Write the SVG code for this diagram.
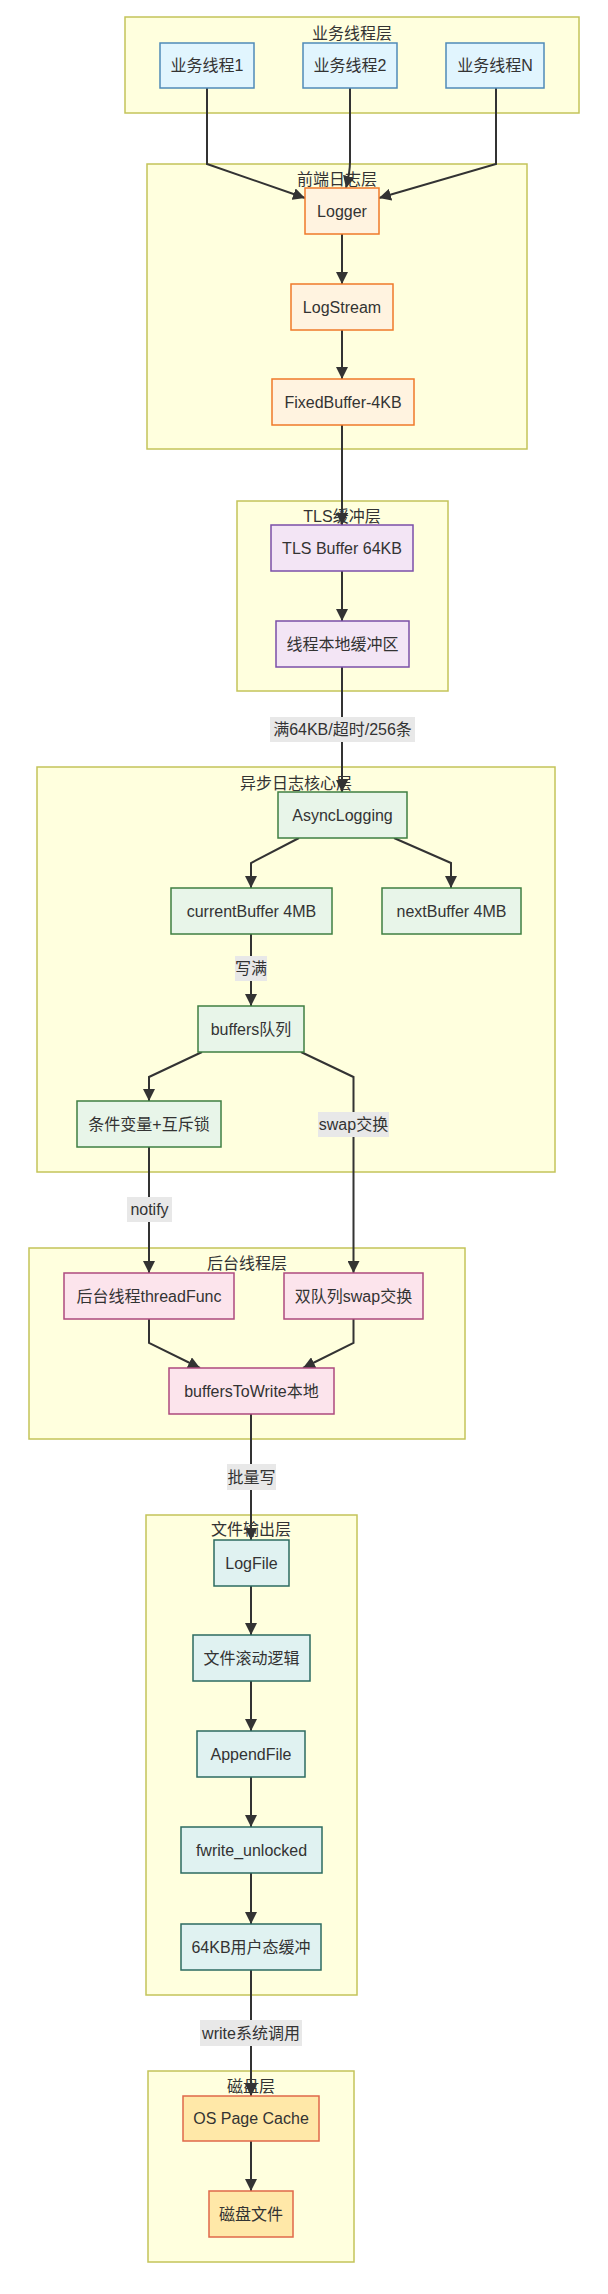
<svg xmlns="http://www.w3.org/2000/svg" width="608" height="2294" viewBox="0 0 608 2294">
<style>
text{font-family:"Liberation Sans","Noto Sans CJK SC",sans-serif;font-size:16px;fill:#333;text-anchor:middle;dominant-baseline:central}
.cl{fill:#ffffde;stroke:#c4c45a;stroke-width:1.5}
.n rect{stroke-width:1.5}
.biz rect{fill:#e1f5fe;stroke:#4f8ab8}
.fe rect{fill:#fff3e0;stroke:#ef7a2a}
.tls rect{fill:#f3e5f5;stroke:#7b4fa8}
.as rect{fill:#e8f5e9;stroke:#3f7f42}
.bg rect{fill:#fce4ec;stroke:#ad4a7e}
.fo rect{fill:#e0f2f1;stroke:#2c6b60}
.dk rect{fill:#ffe8a8;stroke:#e0684a}
.e{fill:none;stroke:#333;stroke-width:2}
.lb{fill:#e8e8e8}
</style>
<defs>
<marker id="arr" viewBox="0 0 10 10" refX="10" refY="5" markerWidth="12" markerHeight="12" markerUnits="userSpaceOnUse" orient="auto">
<path d="M0,0 L10,5 L0,10 z" fill="#333"/>
</marker>
</defs>

<g id="clusters">
<g id="c-biz"><rect class="cl" x="125" y="17" width="454" height="96"/><text x="352" y="33">业务线程层</text></g>
<g id="c-fe"><rect class="cl" x="147" y="164" width="380" height="285"/><text x="337" y="179">前端日志层</text></g>
<g id="c-tls"><rect class="cl" x="237" y="501" width="211" height="190"/><text x="342" y="516">TLS缓冲层</text></g>
<g id="c-async"><rect class="cl" x="37" y="767" width="518" height="405"/><text x="296" y="783">异步日志核心层</text></g>
<g id="c-bg"><rect class="cl" x="29" y="1248" width="436" height="191"/><text x="247" y="1263">后台线程层</text></g>
<g id="c-file"><rect class="cl" x="146" y="1515" width="211" height="480"/><text x="251" y="1529">文件输出层</text></g>
<g id="c-disk"><rect class="cl" x="148" y="2071" width="206" height="191"/><text x="251" y="2086">磁盘层</text></g>
</g>

<g id="connectors">
<path class="e" marker-end="url(#arr)" d="M207,88 V164 L305,198"/>
<path class="e" marker-end="url(#arr)" d="M350,88 V162 Q350,172 346,188"/>
<path class="e" marker-end="url(#arr)" d="M496,88 V164 L379,198"/>
<path class="e" marker-end="url(#arr)" d="M342,234 V284"/>
<path class="e" marker-end="url(#arr)" d="M342,330 V379"/>
<path class="e" marker-end="url(#arr)" d="M342,425 V525"/>
<path class="e" marker-end="url(#arr)" d="M342,571 V621"/>
<path class="e" marker-end="url(#arr)" d="M342,667 V792"/>
<path class="e" marker-end="url(#arr)" d="M299,838 L251,863 V888"/>
<path class="e" marker-end="url(#arr)" d="M394,838 L451,863 V888"/>
<path class="e" marker-end="url(#arr)" d="M251,934 V1006"/>
<path class="e" marker-end="url(#arr)" d="M202,1052 L149,1077 V1101"/>
<path class="e" marker-end="url(#arr)" d="M301,1052 L353.5,1077 V1273"/>
<path class="e" marker-end="url(#arr)" d="M149,1147 V1273"/>
<path class="e" marker-end="url(#arr)" d="M149,1319 V1343 L200,1368"/>
<path class="e" marker-end="url(#arr)" d="M353.5,1319 V1343 L303,1368"/>
<path class="e" marker-end="url(#arr)" d="M251,1414 V1540"/>
<path class="e" marker-end="url(#arr)" d="M251,1586 V1635"/>
<path class="e" marker-end="url(#arr)" d="M251,1681 V1731"/>
<path class="e" marker-end="url(#arr)" d="M251,1777 V1827"/>
<path class="e" marker-end="url(#arr)" d="M251,1873 V1924"/>
<path class="e" marker-end="url(#arr)" d="M251,1970 V2096"/>
<path class="e" marker-end="url(#arr)" d="M251,2141 V2191"/>
<g id="edge-labels">
<rect class="lb" x="270" y="717" width="145" height="25"/><text x="342.5" y="729.5">满64KB/超时/256条</text>
<rect class="lb" x="235" y="956" width="32" height="25"/><text x="251" y="968.5">写满</text>
<rect class="lb" x="318" y="1112" width="71" height="25"/><text x="353.5" y="1124.5">swap交换</text>
<rect class="lb" x="127" y="1197" width="45" height="25"/><text x="149.5" y="1209.5">notify</text>
<rect class="lb" x="227" y="1464" width="49" height="26"/><text x="251.5" y="1477">批量写</text>
<rect class="lb" x="200" y="2020" width="102" height="26"/><text x="251" y="2033">write系统调用</text>
</g>
</g>

<g id="n-biz1" class="n biz"><rect x="160" y="43" width="94" height="45"/><text x="207" y="65.5">业务线程1</text></g>
<g id="n-biz2" class="n biz"><rect x="303" y="43" width="94" height="45"/><text x="350" y="65.5">业务线程2</text></g>
<g id="n-bizN" class="n biz"><rect x="446" y="43" width="98" height="45"/><text x="495" y="65.5">业务线程N</text></g>

<g id="n-logger" class="n fe"><rect x="305" y="188" width="74" height="46"/><text x="342" y="211">Logger</text></g>
<g id="n-logstream" class="n fe"><rect x="291" y="284" width="102" height="46"/><text x="342" y="307">LogStream</text></g>
<g id="n-fixedbuffer" class="n fe"><rect x="272" y="379" width="142" height="46"/><text x="343" y="402">FixedBuffer-4KB</text></g>

<g id="n-tlsbuf" class="n tls"><rect x="271" y="525" width="142" height="46"/><text x="342" y="548">TLS Buffer 64KB</text></g>
<g id="n-tlslocal" class="n tls"><rect x="276" y="621" width="133" height="46"/><text x="342.5" y="644">线程本地缓冲区</text></g>

<g id="n-async" class="n as"><rect x="278" y="792" width="129" height="46"/><text x="342.5" y="815">AsyncLogging</text></g>
<g id="n-current" class="n as"><rect x="171" y="888" width="161" height="46"/><text x="251.5" y="911">currentBuffer 4MB</text></g>
<g id="n-next" class="n as"><rect x="382" y="888" width="139" height="46"/><text x="451.5" y="911">nextBuffer 4MB</text></g>
<g id="n-buffers" class="n as"><rect x="198" y="1006" width="106" height="46"/><text x="251" y="1029">buffers队列</text></g>
<g id="n-cond" class="n as"><rect x="77" y="1101" width="144" height="46"/><text x="149" y="1124">条件变量+互斥锁</text></g>

<g id="n-thread" class="n bg"><rect x="64" y="1273" width="170" height="46"/><text x="149" y="1296">后台线程threadFunc</text></g>
<g id="n-swap" class="n bg"><rect x="284" y="1273" width="139" height="46"/><text x="353.5" y="1296">双队列swap交换</text></g>
<g id="n-towrite" class="n bg"><rect x="169" y="1368" width="165" height="46"/><text x="251.5" y="1391">buffersToWrite本地</text></g>

<g id="n-logfile" class="n fo"><rect x="214" y="1540" width="75" height="46"/><text x="251.5" y="1563">LogFile</text></g>
<g id="n-roll" class="n fo"><rect x="193" y="1635" width="117" height="46"/><text x="251.5" y="1658">文件滚动逻辑</text></g>
<g id="n-append" class="n fo"><rect x="197" y="1731" width="108" height="46"/><text x="251" y="1754">AppendFile</text></g>
<g id="n-fwrite" class="n fo"><rect x="181" y="1827" width="141" height="46"/><text x="251.5" y="1850">fwrite_unlocked</text></g>
<g id="n-userbuf" class="n fo"><rect x="181" y="1924" width="140" height="46"/><text x="251" y="1947">64KB用户态缓冲</text></g>

<g id="n-pagecache" class="n dk"><rect x="183" y="2096" width="136" height="45"/><text x="251" y="2118.5">OS Page Cache</text></g>
<g id="n-diskfile" class="n dk"><rect x="209" y="2191" width="84" height="46"/><text x="251" y="2214">磁盘文件</text></g>
</svg>
